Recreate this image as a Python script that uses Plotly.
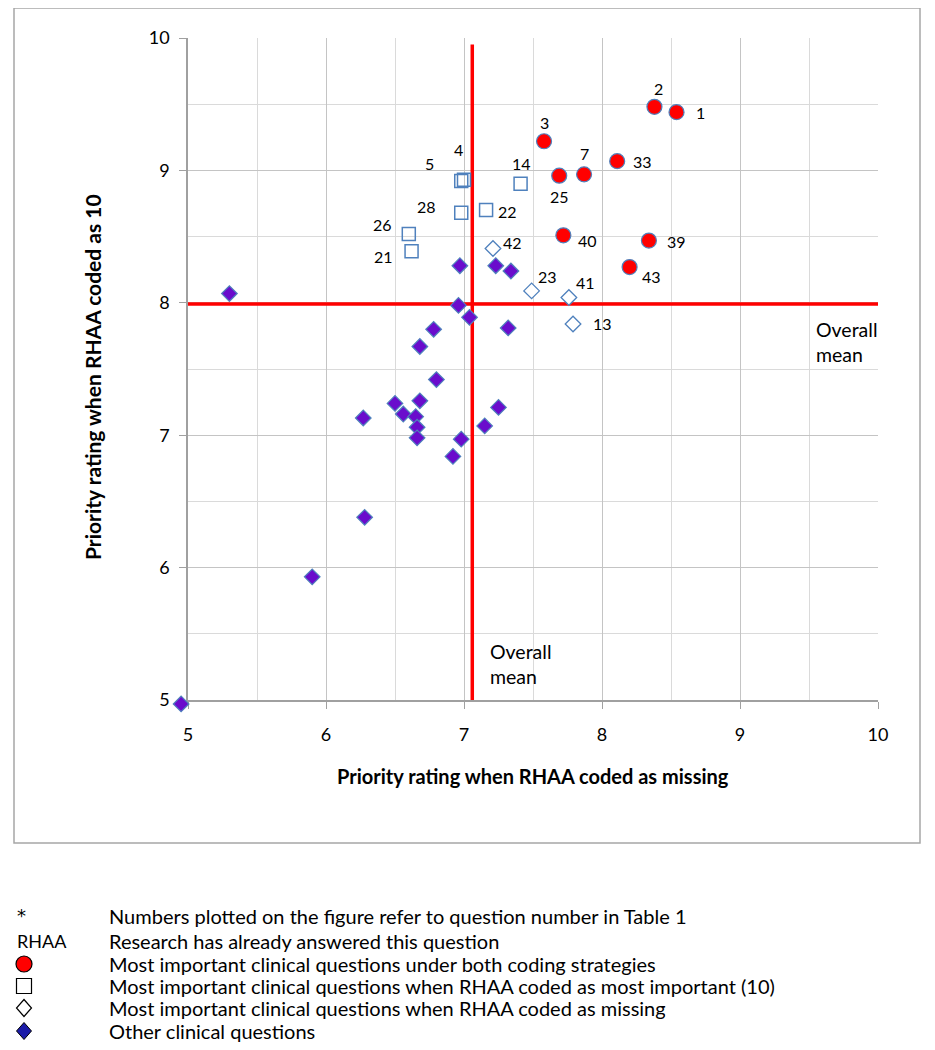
import plotly.graph_objects as go

# ---------------- data ----------------
both_ids = ["1", "2", "3", "7", "25", "33", "40", "39", "43"]
both_x = [8.54, 8.38, 7.58, 7.87, 7.69, 8.11, 7.72, 8.34, 8.20]
both_y = [9.44, 9.48, 9.22, 8.97, 8.96, 9.07, 8.51, 8.47, 8.27]

ten_ids = ["4", "5", "14", "28", "22", "26", "21"]
ten_x = [7.00, 6.98, 7.41, 6.98, 7.16, 6.60, 6.62]
ten_y = [8.93, 8.92, 8.90, 8.68, 8.70, 8.52, 8.39]

miss_ids = ["42", "23", "41", "13"]
miss_x = [7.21, 7.49, 7.76, 7.79]
miss_y = [8.41, 8.09, 8.04, 7.84]

other_x = [5.30, 6.97, 7.23, 7.34, 6.96, 7.04, 6.78, 7.32, 6.68, 6.80, 6.50, 6.68,
           6.56, 6.27, 6.65, 7.25, 6.66, 7.15, 6.66, 6.98, 6.92, 6.28, 5.90, 4.95]
other_y = [8.07, 8.28, 8.28, 8.24, 7.98, 7.89, 7.80, 7.81, 7.67, 7.42, 7.24, 7.26,
           7.16, 7.13, 7.14, 7.21, 7.06, 7.07, 6.98, 6.97, 6.84, 6.38, 5.93, 4.97]

mean_x = 7.06
mean_y = 7.99

x_ticks = [5, 6, 7, 8, 9, 10]
y_ticks = [5, 6, 7, 8, 9, 10]

legend_texts = [
    "Numbers plotted on the figure refer to question number in Table 1",
    "Research has already answered this question",
    "Most important clinical questions under both coding strategies",
    "Most important clinical questions when RHAA coded as most important (10)",
    "Most important clinical questions when RHAA coded as missing",
    "Other clinical questions",
]

# label offsets in pixels (dx, dy) -- styling
label_offsets = {
    "1": (24, 0), "2": (4, -18), "3": (0, -19), "7": (0, -21), "25": (0, 21),
    "33": (25, 0), "40": (24, 5), "39": (28, 1), "43": (22, 9),
    "4": (-6, -30), "5": (-32, -17), "14": (1, -20), "28": (-35, -6),
    "22": (21, 1), "26": (-26, -9), "21": (-28, 5),
    "42": (20, -6), "23": (16, -14), "41": (17, -15), "13": (29, 0),
}

# ---------------- geometry (pixels) ----------------
OFF = 8                       # page body margin
W, H = 927, 1042
AX_L, AX_R, AX_T, AX_B = 180, 870, 30, 692     # main plot rectangle
PL, PR, PT, PB = 170, 870, 30, 702             # paper (margin) rectangle
XMIN, XMAX, YMIN, YMAX = 5, 10, 5, 10
sx = (AX_R - AX_L) / (XMAX - XMIN)
sy = (AX_B - AX_T) / (YMAX - YMIN)


def px(xp):
    return (xp - OFF - PL) / (PR - PL)


def py(yp):
    return (PB - (yp - OFF)) / (PB - PT)


FONT = "Lato, 'Open Sans', sans-serif"
EDGE = "#4f81bd"

fig = go.Figure()

# mean lines (main axes)
fig.add_trace(go.Scatter(x=[XMIN, XMAX], y=[mean_y, mean_y], mode="lines",
                         line=dict(color="#ff0000", width=3.5), hoverinfo="skip",
                         showlegend=False))
fig.add_trace(go.Scatter(x=[mean_x, mean_x], y=[YMIN, 9.95], mode="lines",
                         line=dict(color="#ff0000", width=3.5), hoverinfo="skip",
                         showlegend=False))

# markers on a second (invisible) axis pair with identical scale,
# spanning the whole margin box so the corner point is not hidden
mk = dict(xaxis="x2", yaxis="y2", mode="markers", cliponaxis=False, showlegend=False)
fig.add_trace(go.Scatter(x=other_x, y=other_y, **mk,
                         marker=dict(symbol="diamond", size=12, color="#6a0ccc",
                                     line=dict(color=EDGE, width=1.2))))
fig.add_trace(go.Scatter(x=miss_x, y=miss_y, **mk,
                         marker=dict(symbol="diamond", size=12, color="white",
                                     line=dict(color=EDGE, width=1.3))))
fig.add_trace(go.Scatter(x=ten_x, y=ten_y, **mk,
                         marker=dict(symbol="square-open", size=13, color=EDGE,
                                     line=dict(color=EDGE, width=1.5))))
fig.add_trace(go.Scatter(x=both_x, y=both_y, **mk,
                         marker=dict(symbol="circle", size=15, color="#ff0000",
                                     line=dict(color=EDGE, width=1.2))))

annotations = []
for ids, xs, ys in [(both_ids, both_x, both_y), (ten_ids, ten_x, ten_y),
                    (miss_ids, miss_x, miss_y)]:
    for i, xv, yv in zip(ids, xs, ys):
        dx, dy = label_offsets[i]
        annotations.append(dict(x=xv, y=yv, xref="x", yref="y", text=i,
                                showarrow=False, xshift=dx, yshift=-dy,
                                font=dict(family=FONT, size=16, color="black")))

# overall mean labels
annotations.append(dict(x=px(814), y=py(342), xref="paper", yref="paper",
                        text="Overall<br>mean", showarrow=False, align="left",
                        xanchor="left", yanchor="middle",
                        font=dict(family=FONT, size=19.5, color="black")))
annotations.append(dict(x=px(488), y=py(664), xref="paper", yref="paper",
                        text="Overall<br>mean", showarrow=False, align="left",
                        xanchor="left", yanchor="middle",
                        font=dict(family=FONT, size=19.5, color="black")))

# axis titles
annotations.append(dict(x=px(533), y=py(776), xref="paper", yref="paper",
                        text="<b>Priority rating when RHAA coded as missing</b>",
                        showarrow=False, xanchor="center", yanchor="middle",
                        font=dict(family=FONT, size=20, color="black")))
annotations.append(dict(x=px(92), y=py(377), xref="paper", yref="paper",
                        text="<b>Priority rating when RHAA coded as 10</b>",
                        showarrow=False, xanchor="center", yanchor="middle",
                        textangle=-90,
                        font=dict(family=FONT, size=21, color="black")))

# bottom legend text
row_y = [916, 941, 964, 986, 1008, 1031]
annotations.append(dict(x=px(15), y=py(row_y[0] - 1), xref="paper", yref="paper",
                        text="*", showarrow=False, xanchor="left", yanchor="middle",
                        font=dict(family="DejaVu Sans", size=18, color="black")))
annotations.append(dict(x=px(15), y=py(row_y[1]), xref="paper", yref="paper",
                        text="RHAA", showarrow=False, xanchor="left", yanchor="middle",
                        font=dict(family=FONT, size=18, color="black")))
for t, yy in zip(legend_texts, row_y):
    annotations.append(dict(x=px(107), y=py(yy), xref="paper", yref="paper",
                            text=t, showarrow=False, xanchor="left", yanchor="middle",
                            height=22,
                            font=dict(family=FONT, size=20, color="black")))

shapes = [dict(type="rect", xref="paper", yref="paper",
               x0=px(14), x1=px(920), y0=py(843), y1=py(8),
               line=dict(color="#a6a6a6", width=1.5), fillcolor="rgba(0,0,0,0)",
               layer="below")]

# legend key symbols (shapes in paper space)
KX = 24
shapes.append(dict(type="circle", xref="paper", yref="paper",
                   x0=px(KX - 8), x1=px(KX + 8), y0=py(row_y[2] + 8), y1=py(row_y[2] - 8),
                   fillcolor="#ff0000", line=dict(color="black", width=1.2)))
shapes.append(dict(type="rect", xref="paper", yref="paper",
                   x0=px(KX - 7.5), x1=px(KX + 7.5), y0=py(row_y[3] + 7.5),
                   y1=py(row_y[3] - 7.5),
                   fillcolor="white", line=dict(color="black", width=1.2)))


def diamond_path(cx, cy, hw, hh):
    pts = [(cx, cy - hh), (cx + hw, cy), (cx, cy + hh), (cx - hw, cy)]
    return "M " + " L ".join(f"{px(a):.5f},{py(b):.5f}" for a, b in pts) + " Z"


shapes.append(dict(type="path", xref="paper", yref="paper",
                   path=diamond_path(KX, row_y[4], 7.5, 8.5),
                   fillcolor="white", line=dict(color="black", width=1.2)))
shapes.append(dict(type="path", xref="paper", yref="paper",
                   path=diamond_path(KX, row_y[5], 7.5, 8.5),
                   fillcolor="#1c1ca8", line=dict(color="black", width=1)))

axis_common = dict(
    range=[XMIN, XMAX], dtick=1, tick0=5, showgrid=True, gridcolor="#c4c4c4",
    gridwidth=1.2, zeroline=False, showline=True, linecolor="#a0a0a0", linewidth=1.5,
    ticks="outside", ticklen=7, tickcolor="#a0a0a0",
    tickfont=dict(family=FONT, size=18, color="black"),
    minor=dict(dtick=0.5, showgrid=True, gridcolor="#dadada", gridwidth=1),
    fixedrange=True,
)

fig.update_layout(
    width=W, height=H,
    margin=dict(l=PL, r=W - PR, t=PT, b=H - PB),
    paper_bgcolor="white", plot_bgcolor="rgba(0,0,0,0)",
    xaxis=dict(**axis_common, tickvals=x_ticks, ticklabelstandoff=11,
               domain=[(AX_L - PL) / (PR - PL), 1], anchor="y"),
    yaxis=dict(**axis_common, tickvals=y_ticks, ticklabelstandoff=6,
               domain=[(PB - AX_B) / (PB - PT), 1], anchor="x"),
    xaxis2=dict(range=[XMAX - (PR - PL) / sx, XMAX], domain=[0, 1],
                anchor="y2", visible=False, showgrid=False, fixedrange=True),
    yaxis2=dict(range=[YMAX - (PB - PT) / sy, YMAX], domain=[0, 1],
                anchor="x2", visible=False, showgrid=False, fixedrange=True),
    annotations=annotations, shapes=shapes, showlegend=False,
)

fig.write_html("out.html")
